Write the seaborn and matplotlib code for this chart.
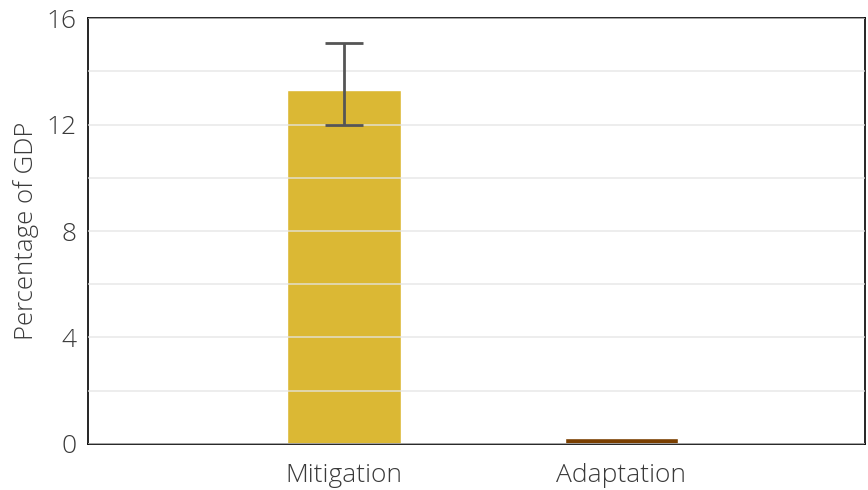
import seaborn as sns
import pandas as pd
import numpy as np
import matplotlib.pyplot as plt

# values
categories = ['Mitigation', 'Adaptation']
share_gdp = [13.3, 0.22]
err_low = [12.0, np.nan]
err_high = [15.05, np.nan]
bar_colors = ['#dbb834', '#7a3f00']

sns.set_theme(style='white')
plt.rcParams['font.family'] = ['Open Sans', 'DejaVu Sans']

df = pd.DataFrame({'category': categories, 'pct': share_gdp})

fig, ax = plt.subplots(figsize=(8.68, 4.9), dpi=100)
sns.barplot(data=df, x='category', y='pct', hue='category', palette=bar_colors,
            width=0.41, errorbar=None, legend=False, ax=ax, zorder=2, saturation=1)

#error bar for mitigation only
yerr = [[share_gdp[0] - err_low[0]], [err_high[0] - share_gdp[0]]]
ax.errorbar([0], [share_gdp[0]], yerr=yerr, fmt='none', ecolor='#555555',
            elinewidth=2, capsize=14, capthick=2, zorder=4)

ax.set_ylim(0, 16)
ax.set_xlim(-0.925, 1.88)
ax.set_yticks([0, 4, 8, 12, 16])
ax.set_yticks([2, 6, 10, 14], minor=True)
ax.grid(axis='y', which='both', color='#e4e4e4', linewidth=1.2, zorder=3, alpha=0.8)
ax.set_axisbelow(False)
ax.tick_params(axis='y', which='both', length=0, labelsize=19, labelcolor='#3a3a3a', pad=8)
ax.tick_params(axis='x', which='both', length=0, labelsize=19, labelcolor='#3a3a3a', pad=14)
for lab in ax.get_xticklabels() + ax.get_yticklabels():
    lab.set_fontweight('light')
ax.set_xlabel('')
ax.set_ylabel('Percentage of GDP', fontsize=18.5, color='#3a3a3a', fontweight='light', labelpad=5)
for s in ax.spines.values():
    s.set_color('black')
    s.set_linewidth(1.2)

plt.subplots_adjust(left=0.101, right=0.997, top=0.963, bottom=0.094)
plt.savefig('out.png', dpi=100)
